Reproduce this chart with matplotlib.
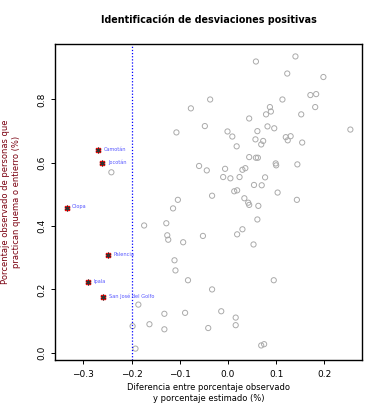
import matplotlib
matplotlib.use("Agg")
import matplotlib.pyplot as plt

# Gray (non-identified) municipalities
diff_x = [0.058, 0.140, 0.123, 0.198, -0.037, 0.113, 0.171, 0.183, -0.077, 0.181,
          0.087, 0.089, 0.079, 0.152, 0.044, -0.107, -0.048, -0.001, 0.009, 0.061,
          0.082, 0.096, 0.254, 0.018, 0.057, 0.073, 0.069, 0.120, 0.130, 0.124,
          0.154, 0.044, 0.058, 0.062, -0.060, -0.044, -0.006, 0.030, 0.036, 0.099,
          0.100, 0.144, -0.010, 0.005, 0.024, 0.077, 0.054, 0.070, 0.013, 0.019,
          0.103, -0.033, -0.104, 0.034, 0.143, 0.042, 0.044, 0.063, -0.114, 0.061,
          -0.174, -0.128, -0.126, -0.124, -0.093, -0.052, 0.019, 0.030, 0.053, -0.111,
          -0.109, -0.083, 0.095, -0.033, -0.186, -0.132, -0.089, -0.014, 0.016, 0.016,
          -0.041, -0.163, -0.132, -0.198, -0.192, 0.069, 0.075, -0.242]
obs_y = [0.920, 0.936, 0.882, 0.871, 0.800, 0.800, 0.814, 0.817, 0.772, 0.776,
         0.776, 0.762, 0.753, 0.753, 0.740, 0.696, 0.716, 0.699, 0.683, 0.700,
         0.715, 0.709, 0.705, 0.652, 0.674, 0.669, 0.658, 0.681, 0.684, 0.671,
         0.664, 0.618, 0.616, 0.616, 0.590, 0.576, 0.581, 0.578, 0.583, 0.598,
         0.592, 0.595, 0.555, 0.551, 0.555, 0.554, 0.530, 0.529, 0.510, 0.513,
         0.506, 0.496, 0.483, 0.488, 0.483, 0.474, 0.467, 0.464, 0.456, 0.421,
         0.402, 0.409, 0.371, 0.357, 0.349, 0.369, 0.374, 0.390, 0.342, 0.292,
         0.260, 0.229, 0.229, 0.200, 0.152, 0.123, 0.126, 0.131, 0.111, 0.087,
         0.078, 0.090, 0.074, 0.084, 0.013, 0.023, 0.027, 0.570]

# Identified positive deviations
names = ["Camotán", "Jocotán", "Olopa", "Palencia", "Ipala", "San José del Golfo"]
names_x = [-0.269, -0.261, -0.335, -0.250, -0.291, -0.259]
names_y = [0.639, 0.599, 0.458, 0.308, 0.223, 0.175]

threshold = -0.2
x_ticks = [-0.3, -0.2, -0.1, 0.0, 0.1, 0.2]
y_ticks = [0.0, 0.2, 0.4, 0.6, 0.8]

fig = plt.figure(figsize=(3.83, 4.16), dpi=100)
ax = fig.add_axes([0.1436, 0.1346, 0.8014, 0.7594])

ax.scatter(diff_x, obs_y, s=14, facecolors="none", edgecolors="#aaaaaa", linewidths=0.7)
ax.scatter(names_x, names_y, s=6, marker="s", color="red", zorder=3)
ax.scatter(names_x, names_y, s=16, marker=(6, 2, 0), color="#333333", linewidths=0.5, zorder=4)
for n, x, y in zip(names, names_x, names_y):
    ax.annotate(n, (x, y), xytext=(4, 0.8), textcoords="offset points",
                fontsize=3.6, color="#5555ff", va="center", ha="left")

ax.axvline(threshold, color="blue", linestyle=(0, (1, 1.5)), linewidth=0.9)

ax.set_xlim(-0.359, 0.278)
ax.set_ylim(-0.023, 0.975)
ax.set_xticks(x_ticks)
ax.set_xticklabels(["\u22120.3", "\u22120.2", "\u22120.1", "0.0", "0.1", "0.2"])
ax.set_yticks(y_ticks)
ax.set_yticklabels(["0.0", "0.2", "0.4", "0.6", "0.8"], rotation=90, va="center")
ax.tick_params(labelsize=6.5, length=3, width=0.7)
ax.tick_params(axis="x", pad=4.5)
ax.tick_params(axis="y", pad=3)
for s in ax.spines.values():
    s.set_linewidth(1.0)

ax.set_xlabel("Diferencia entre porcentaje observado\ny porcentaje estimado (%)",
              fontsize=6.0, labelpad=2.5, linespacing=1.3)
ax.set_ylabel("Porcentaje observado de personas que\npractican quema o entierro (%)",
              fontsize=6.0, labelpad=12, color="#7a0010", linespacing=1.3)
fig.text(0.545, 0.952, "Identificación de desviaciones positivas",
         ha="center", va="center", fontsize=6.9, fontweight="bold")

fig.savefig("out.png", dpi=100)
